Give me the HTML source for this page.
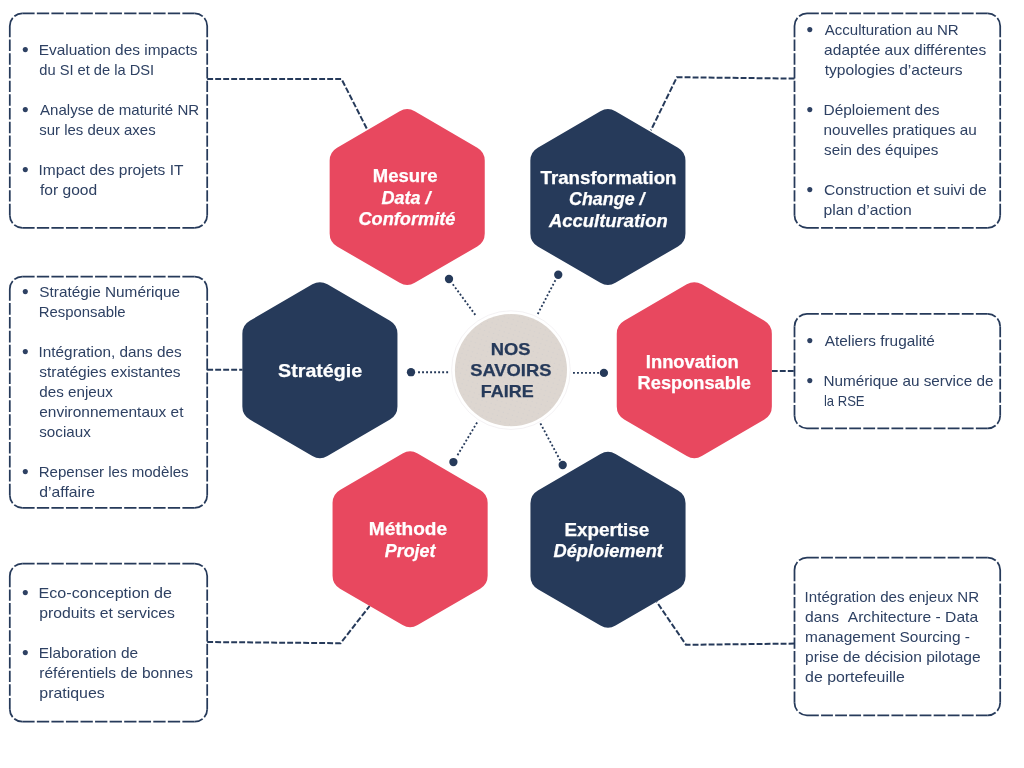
<!DOCTYPE html>
<html lang="fr"><head><meta charset="utf-8"><title>Nos savoirs faire</title>
<style>html,body{margin:0;padding:0;background:#fff}svg{display:block;will-change:transform}text{font-family:"Liberation Sans",sans-serif}.b{font-size:14.6px;fill:#2E4163}.h{font-size:17.8px;font-weight:700;fill:#fff;stroke:#fff;stroke-width:.25px}.i{font-style:italic}.c{font-size:16.6px;font-weight:700;fill:#263A5A;stroke:#263A5A;stroke-width:.25px}</style></head><body>
<svg width="1024" height="768" viewBox="0 0 1024 768">
<rect width="1024" height="768" fill="#fff"/>
<polyline points="207.2,79 341.5,79 367,129.1" fill="none" stroke="#263A5A" stroke-width="2.0" stroke-dasharray="5.9 2.1"/>
<polyline points="207.2,369.8 242.5,369.8" fill="none" stroke="#263A5A" stroke-width="2.0" stroke-dasharray="5.9 2.1"/>
<polyline points="207.2,642.0 340.6,643.2 369.6,606.0" fill="none" stroke="#263A5A" stroke-width="2.0" stroke-dasharray="5.9 2.1"/>
<polyline points="794.5,78.6 676.9,77.2 650.9,130.3" fill="none" stroke="#263A5A" stroke-width="2.0" stroke-dasharray="5.9 2.1"/>
<polyline points="771.8,371.1 794.5,371.1" fill="none" stroke="#263A5A" stroke-width="2.0" stroke-dasharray="5.9 2.1"/>
<polyline points="794.5,643.6 686.0,644.8 656.7,601.8" fill="none" stroke="#263A5A" stroke-width="2.0" stroke-dasharray="5.9 2.1"/>
<g fill="none" stroke="#263A5A" stroke-width="1.75"><path d="M22.30,13.40L194.70,13.40" stroke-dasharray="12.304 2.25"/><path d="M207.20,25.90L207.20,215.30" stroke-dasharray="11.439 2.25"/><path d="M194.70,227.80L22.30,227.80" stroke-dasharray="12.304 2.25"/><path d="M9.80,215.30L9.80,25.90" stroke-dasharray="11.439 2.25"/><path d="M9.80,25.90A12.5,12.5 0 0 1 22.30,13.40" stroke-dasharray="8.692 2.25"/><path d="M194.70,13.40A12.5,12.5 0 0 1 207.20,25.90" stroke-dasharray="8.692 2.25"/><path d="M207.20,215.30A12.5,12.5 0 0 1 194.70,227.80" stroke-dasharray="8.692 2.25"/><path d="M22.30,227.80A12.5,12.5 0 0 1 9.80,215.30" stroke-dasharray="8.692 2.25"/></g>
<g fill="none" stroke="#263A5A" stroke-width="1.75"><path d="M22.30,276.60L194.70,276.60" stroke-dasharray="12.304 2.25"/><path d="M207.20,289.10L207.20,495.30" stroke-dasharray="11.647 2.25"/><path d="M194.70,507.80L22.30,507.80" stroke-dasharray="12.304 2.25"/><path d="M9.80,495.30L9.80,289.10" stroke-dasharray="11.647 2.25"/><path d="M9.80,289.10A12.5,12.5 0 0 1 22.30,276.60" stroke-dasharray="8.692 2.25"/><path d="M194.70,276.60A12.5,12.5 0 0 1 207.20,289.10" stroke-dasharray="8.692 2.25"/><path d="M207.20,495.30A12.5,12.5 0 0 1 194.70,507.80" stroke-dasharray="8.692 2.25"/><path d="M22.30,507.80A12.5,12.5 0 0 1 9.80,495.30" stroke-dasharray="8.692 2.25"/></g>
<g fill="none" stroke="#263A5A" stroke-width="1.75"><path d="M22.30,563.50L194.70,563.50" stroke-dasharray="12.304 2.25"/><path d="M207.20,576.00L207.20,709.20" stroke-dasharray="11.295 2.25"/><path d="M194.70,721.70L22.30,721.70" stroke-dasharray="12.304 2.25"/><path d="M9.80,709.20L9.80,576.00" stroke-dasharray="11.295 2.25"/><path d="M9.80,576.00A12.5,12.5 0 0 1 22.30,563.50" stroke-dasharray="8.692 2.25"/><path d="M194.70,563.50A12.5,12.5 0 0 1 207.20,576.00" stroke-dasharray="8.692 2.25"/><path d="M207.20,709.20A12.5,12.5 0 0 1 194.70,721.70" stroke-dasharray="8.692 2.25"/><path d="M22.30,721.70A12.5,12.5 0 0 1 9.80,709.20" stroke-dasharray="8.692 2.25"/></g>
<g fill="none" stroke="#263A5A" stroke-width="1.75"><path d="M807.00,13.40L987.70,13.40" stroke-dasharray="11.823 2.25"/><path d="M1000.20,25.90L1000.20,215.30" stroke-dasharray="11.439 2.25"/><path d="M987.70,227.80L807.00,227.80" stroke-dasharray="11.823 2.25"/><path d="M794.50,215.30L794.50,25.90" stroke-dasharray="11.439 2.25"/><path d="M794.50,25.90A12.5,12.5 0 0 1 807.00,13.40" stroke-dasharray="8.692 2.25"/><path d="M987.70,13.40A12.5,12.5 0 0 1 1000.20,25.90" stroke-dasharray="8.692 2.25"/><path d="M1000.20,215.30A12.5,12.5 0 0 1 987.70,227.80" stroke-dasharray="8.692 2.25"/><path d="M807.00,227.80A12.5,12.5 0 0 1 794.50,215.30" stroke-dasharray="8.692 2.25"/></g>
<g fill="none" stroke="#263A5A" stroke-width="1.75"><path d="M807.00,313.90L987.70,313.90" stroke-dasharray="11.823 2.25"/><path d="M1000.20,326.40L1000.20,415.80" stroke-dasharray="10.843 2.25"/><path d="M987.70,428.30L807.00,428.30" stroke-dasharray="11.823 2.25"/><path d="M794.50,415.80L794.50,326.40" stroke-dasharray="10.843 2.25"/><path d="M794.50,326.40A12.5,12.5 0 0 1 807.00,313.90" stroke-dasharray="8.692 2.25"/><path d="M987.70,313.90A12.5,12.5 0 0 1 1000.20,326.40" stroke-dasharray="8.692 2.25"/><path d="M1000.20,415.80A12.5,12.5 0 0 1 987.70,428.30" stroke-dasharray="8.692 2.25"/><path d="M807.00,428.30A12.5,12.5 0 0 1 794.50,415.80" stroke-dasharray="8.692 2.25"/></g>
<g fill="none" stroke="#263A5A" stroke-width="1.75"><path d="M807.00,557.60L987.70,557.60" stroke-dasharray="11.823 2.25"/><path d="M1000.20,570.10L1000.20,702.80" stroke-dasharray="11.245 2.25"/><path d="M987.70,715.30L807.00,715.30" stroke-dasharray="11.823 2.25"/><path d="M794.50,702.80L794.50,570.10" stroke-dasharray="11.245 2.25"/><path d="M794.50,570.10A12.5,12.5 0 0 1 807.00,557.60" stroke-dasharray="8.692 2.25"/><path d="M987.70,557.60A12.5,12.5 0 0 1 1000.20,570.10" stroke-dasharray="8.692 2.25"/><path d="M1000.20,702.80A12.5,12.5 0 0 1 987.70,715.30" stroke-dasharray="8.692 2.25"/><path d="M807.00,715.30A12.5,12.5 0 0 1 794.50,702.80" stroke-dasharray="8.692 2.25"/></g>
<line x1="475.3" y1="314.9" x2="452.80" y2="284.18" stroke="#263A5A" stroke-width="1.85" stroke-dasharray="1.9 2.12"/>
<circle cx="449.0" cy="279.0" r="4.15" fill="#263A5A"/>
<line x1="537.75" y1="314.0" x2="555.38" y2="280.25" stroke="#263A5A" stroke-width="1.85" stroke-dasharray="1.9 2.12"/>
<circle cx="558.25" cy="274.75" r="4.15" fill="#263A5A"/>
<line x1="448.1" y1="372.2" x2="418.06" y2="372.20" stroke="#263A5A" stroke-width="1.85" stroke-dasharray="1.9 2.12"/>
<circle cx="411.0" cy="372.2" r="4.15" fill="#263A5A"/>
<line x1="573.0" y1="372.9" x2="599.02" y2="372.90" stroke="#263A5A" stroke-width="1.85" stroke-dasharray="1.9 2.12"/>
<circle cx="603.9" cy="372.9" r="4.15" fill="#263A5A"/>
<line x1="477.1" y1="422.5" x2="457.53" y2="455.16" stroke="#263A5A" stroke-width="1.85" stroke-dasharray="1.9 2.12"/>
<circle cx="453.4" cy="462.05" r="4.15" fill="#263A5A"/>
<line x1="540.4" y1="423.4" x2="560.29" y2="460.51" stroke="#263A5A" stroke-width="1.85" stroke-dasharray="1.9 2.12"/>
<circle cx="562.7" cy="465.0" r="4.15" fill="#263A5A"/>
<path d="M399.66,111.26 A15,15 0 0 1 414.74,111.26 L477.29,147.63 A15,15 0 0 1 484.75,160.59 L484.75,233.51 A15,15 0 0 1 477.29,246.47 L414.74,282.84 A15,15 0 0 1 399.66,282.84 L337.11,246.47 A15,15 0 0 1 329.65,233.51 L329.65,160.59 A15,15 0 0 1 337.11,147.63 Z" fill="#E8485F"/>
<path d="M600.36,111.26 A15,15 0 0 1 615.44,111.26 L677.99,147.63 A15,15 0 0 1 685.45,160.59 L685.45,233.51 A15,15 0 0 1 677.99,246.47 L615.44,282.84 A15,15 0 0 1 600.36,282.84 L537.81,246.47 A15,15 0 0 1 530.35,233.51 L530.35,160.59 A15,15 0 0 1 537.81,147.63 Z" fill="#263A5A"/>
<path d="M312.36,284.36 A15,15 0 0 1 327.44,284.36 L389.99,320.73 A15,15 0 0 1 397.45,333.69 L397.45,406.61 A15,15 0 0 1 389.99,419.57 L327.44,455.94 A15,15 0 0 1 312.36,455.94 L249.81,419.57 A15,15 0 0 1 242.35,406.61 L242.35,333.69 A15,15 0 0 1 249.81,320.73 Z" fill="#263A5A"/>
<path d="M686.76,284.36 A15,15 0 0 1 701.84,284.36 L764.39,320.73 A15,15 0 0 1 771.85,333.69 L771.85,406.61 A15,15 0 0 1 764.39,419.57 L701.84,455.94 A15,15 0 0 1 686.76,455.94 L624.21,419.57 A15,15 0 0 1 616.75,406.61 L616.75,333.69 A15,15 0 0 1 624.21,320.73 Z" fill="#E8485F"/>
<path d="M402.56,453.51 A15,15 0 0 1 417.64,453.51 L480.19,489.88 A15,15 0 0 1 487.65,502.84 L487.65,575.76 A15,15 0 0 1 480.19,588.72 L417.64,625.09 A15,15 0 0 1 402.56,625.09 L340.01,588.72 A15,15 0 0 1 332.55,575.76 L332.55,502.84 A15,15 0 0 1 340.01,489.88 Z" fill="#E8485F"/>
<path d="M600.46,454.01 A15,15 0 0 1 615.54,454.01 L678.09,490.38 A15,15 0 0 1 685.55,503.34 L685.55,576.26 A15,15 0 0 1 678.09,589.22 L615.54,625.59 A15,15 0 0 1 600.46,625.59 L537.91,589.22 A15,15 0 0 1 530.45,576.26 L530.45,503.34 A15,15 0 0 1 537.91,490.38 Z" fill="#263A5A"/>
<text class="h" x="372.76" y="182.1" textLength="64.68" lengthAdjust="spacingAndGlyphs">Mesure</text>
<text class="h i" x="381.50" y="203.6" textLength="49.02" lengthAdjust="spacingAndGlyphs">Data /</text>
<text class="h i" x="358.40" y="225.2" textLength="97.08" lengthAdjust="spacingAndGlyphs">Conformité</text>
<text class="h" x="540.56" y="183.5" textLength="136.00" lengthAdjust="spacingAndGlyphs">Transformation</text>
<text class="h i" x="569.02" y="205.0" textLength="75.56" lengthAdjust="spacingAndGlyphs">Change /</text>
<text class="h i" x="549.00" y="227.0" textLength="118.76" lengthAdjust="spacingAndGlyphs">Acculturation</text>
<text class="h" x="278.12" y="376.7" textLength="84.04" lengthAdjust="spacingAndGlyphs">Stratégie</text>
<text class="h" x="645.80" y="367.6" textLength="92.90" lengthAdjust="spacingAndGlyphs">Innovation</text>
<text class="h" x="637.60" y="388.7" textLength="113.40" lengthAdjust="spacingAndGlyphs">Responsable</text>
<text class="h" x="368.80" y="534.6" textLength="78.30" lengthAdjust="spacingAndGlyphs">Méthode</text>
<text class="h i" x="384.75" y="556.5" textLength="50.72" lengthAdjust="spacingAndGlyphs">Projet</text>
<text class="h" x="564.56" y="535.8" textLength="84.64" lengthAdjust="spacingAndGlyphs">Expertise</text>
<text class="h i" x="553.46" y="557.4" textLength="109.50" lengthAdjust="spacingAndGlyphs">Déploiement</text>
<circle cx="510.95" cy="370.1" r="59.349999999999994" fill="none" stroke="#ECE9EC" stroke-width="0.6"/>
<circle cx="510.95" cy="370.1" r="56.05" fill="#DDD6D0"/>
<defs><pattern id="dots" width="4.8" height="4.8" patternUnits="userSpaceOnUse" patternTransform="rotate(18)"><circle cx="1.2" cy="1.2" r="0.5" fill="#C4C4CA"/></pattern></defs>
<circle cx="510.95" cy="370.1" r="55.55" fill="url(#dots)" opacity="0.7"/>
<text class="c" x="490.80" y="354.95" textLength="39.85" lengthAdjust="spacingAndGlyphs">NOS</text>
<text class="c" x="470.20" y="375.95" textLength="81.24" lengthAdjust="spacingAndGlyphs">SAVOIRS</text>
<text class="c" x="480.80" y="397.2" textLength="52.90" lengthAdjust="spacingAndGlyphs">FAIRE</text>
<circle cx="25.3" cy="49.6" r="2.55" fill="#2E4163"/>
<text class="b" x="38.68" y="55" textLength="158.88" lengthAdjust="spacingAndGlyphs">Evaluation des impacts</text>
<text class="b" x="39.28" y="75" textLength="114.90" lengthAdjust="spacingAndGlyphs">du SI et de la DSI</text>
<circle cx="25.3" cy="109.6" r="2.55" fill="#2E4163"/>
<text class="b" x="40.00" y="115" textLength="159.16" lengthAdjust="spacingAndGlyphs">Analyse de maturité NR</text>
<text class="b" x="39.28" y="135" textLength="116.36" lengthAdjust="spacingAndGlyphs">sur les deux axes</text>
<circle cx="25.3" cy="169.6" r="2.55" fill="#2E4163"/>
<text class="b" x="38.56" y="175" textLength="144.90" lengthAdjust="spacingAndGlyphs">Impact des projets IT</text>
<text class="b" x="40.00" y="195" textLength="57.16" lengthAdjust="spacingAndGlyphs">for good</text>
<circle cx="25.3" cy="291.6" r="2.55" fill="#2E4163"/>
<text class="b" x="39.28" y="297" textLength="140.80" lengthAdjust="spacingAndGlyphs">Stratégie Numérique</text>
<text class="b" x="38.68" y="317" textLength="87.00" lengthAdjust="spacingAndGlyphs">Responsable</text>
<circle cx="25.3" cy="351.6" r="2.55" fill="#2E4163"/>
<text class="b" x="38.56" y="357" textLength="143.12" lengthAdjust="spacingAndGlyphs">Intégration, dans des</text>
<text class="b" x="39.28" y="377" textLength="141.36" lengthAdjust="spacingAndGlyphs">stratégies existantes</text>
<text class="b" x="39.28" y="397" textLength="73.52" lengthAdjust="spacingAndGlyphs">des enjeux</text>
<text class="b" x="39.28" y="417" textLength="144.20" lengthAdjust="spacingAndGlyphs">environnementaux et</text>
<text class="b" x="39.28" y="437" textLength="51.48" lengthAdjust="spacingAndGlyphs">sociaux</text>
<circle cx="25.3" cy="471.6" r="2.55" fill="#2E4163"/>
<text class="b" x="38.68" y="477" textLength="150.00" lengthAdjust="spacingAndGlyphs">Repenser les modèles</text>
<text class="b" x="39.28" y="497" textLength="55.84" lengthAdjust="spacingAndGlyphs">d’affaire</text>
<circle cx="25.3" cy="592.6" r="2.55" fill="#2E4163"/>
<text class="b" x="38.56" y="598" textLength="133.44" lengthAdjust="spacingAndGlyphs">Eco-conception de</text>
<text class="b" x="39.28" y="618" textLength="135.68" lengthAdjust="spacingAndGlyphs">produits et services</text>
<circle cx="25.3" cy="652.6" r="2.55" fill="#2E4163"/>
<text class="b" x="38.68" y="658" textLength="99.46" lengthAdjust="spacingAndGlyphs">Elaboration de</text>
<text class="b" x="39.28" y="678" textLength="153.64" lengthAdjust="spacingAndGlyphs">référentiels de bonnes</text>
<text class="b" x="39.28" y="698" textLength="65.56" lengthAdjust="spacingAndGlyphs">pratiques</text>
<circle cx="809.8" cy="29.6" r="2.55" fill="#2E4163"/>
<text class="b" x="824.70" y="35" textLength="134.04" lengthAdjust="spacingAndGlyphs">Acculturation au NR</text>
<text class="b" x="824.10" y="55" textLength="162.20" lengthAdjust="spacingAndGlyphs">adaptée aux différentes</text>
<text class="b" x="824.70" y="75" textLength="137.76" lengthAdjust="spacingAndGlyphs">typologies d’acteurs</text>
<circle cx="809.8" cy="109.6" r="2.55" fill="#2E4163"/>
<text class="b" x="823.50" y="115" textLength="116.02" lengthAdjust="spacingAndGlyphs">Déploiement des</text>
<text class="b" x="823.50" y="135" textLength="153.24" lengthAdjust="spacingAndGlyphs">nouvelles pratiques au</text>
<text class="b" x="824.10" y="155" textLength="114.20" lengthAdjust="spacingAndGlyphs">sein des équipes</text>
<circle cx="809.8" cy="189.6" r="2.55" fill="#2E4163"/>
<text class="b" x="823.92" y="195" textLength="162.80" lengthAdjust="spacingAndGlyphs">Construction et suivi de</text>
<text class="b" x="823.50" y="215" textLength="88.24" lengthAdjust="spacingAndGlyphs">plan d’action</text>
<circle cx="809.8" cy="340.6" r="2.55" fill="#2E4163"/>
<text class="b" x="824.70" y="346" textLength="110.20" lengthAdjust="spacingAndGlyphs">Ateliers frugalité</text>
<circle cx="809.8" cy="380.6" r="2.55" fill="#2E4163"/>
<text class="b" x="823.50" y="386" textLength="169.88" lengthAdjust="spacingAndGlyphs">Numérique au service de</text>
<text class="b" x="823.92" y="406" textLength="40.66" lengthAdjust="spacingAndGlyphs">la RSE</text>
<text class="b" x="804.60" y="602" textLength="174.58" lengthAdjust="spacingAndGlyphs">Intégration des enjeux NR</text>
<text class="b" x="805.08" y="622" textLength="173.08" lengthAdjust="spacingAndGlyphs">dans&#160;&#160;Architecture - Data</text>
<text class="b" x="805.08" y="642" textLength="164.84" lengthAdjust="spacingAndGlyphs">management Sourcing -</text>
<text class="b" x="805.08" y="662" textLength="175.58" lengthAdjust="spacingAndGlyphs">prise de décision pilotage</text>
<text class="b" x="805.08" y="682" textLength="99.74" lengthAdjust="spacingAndGlyphs">de portefeuille</text>
</svg></body></html>
